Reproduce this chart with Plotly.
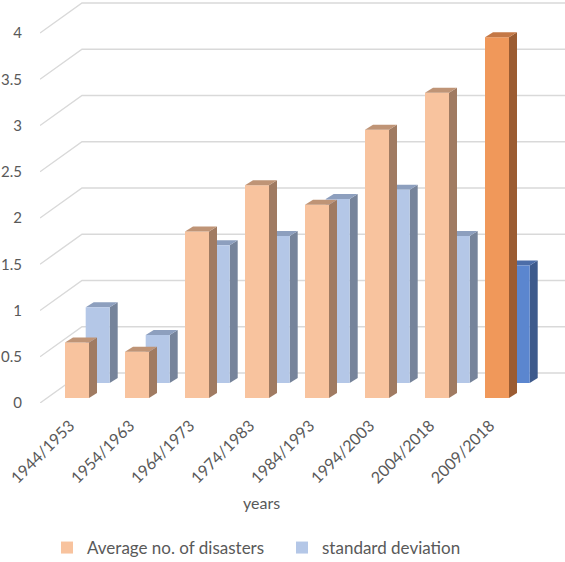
import plotly.graph_objects as go

# ---------------- data ----------------
categories = ["1944/1953", "1954/1963", "1964/1973", "1974/1983",
              "1984/1993", "1994/2003", "2004/2018", "2009/2018"]
avg_disasters = [0.6, 0.5, 1.8, 2.3, 2.09, 2.9, 3.3, 3.9]
std_deviation = [0.82, 0.52, 1.49, 1.59, 1.99, 2.09, 1.59, 1.27]
y_tick_vals = [0, 0.5, 1, 1.5, 2, 2.5, 3, 3.5, 4]
y_tick_labels = ["0", "0.5", "1", "1.5", "2", "2.5", "3", "3.5", "4"]

# ---------------- styling / pseudo-3D geometry ----------------
FONT = "Lato"
TXT = "#595959"
GRID = "#D9D9D9"

avg_front = ["#F8C39E"] * 7 + ["#F0985A"]
avg_side = ["#A07B62"] * 7 + ["#9B5C32"]
avg_top = ["#BF9476"] * 7 + ["#C47846"]
std_front = ["#B4C7E7"] * 7 + ["#5B86CF"]
std_side = ["#76849B"] * 7 + ["#3D5A8C"]
std_top = ["#8D9FBE"] * 7 + ["#4C6DA8"]

PX_X = 60.0     # px per category
PX_Y = 92.5     # px per value unit
X_LEFT = -37 / PX_X
X_RIGHT = 488 / PX_X
Y_TOP = 403 / PX_Y

HALF_W = 0.2
FACE_DX = 8 / PX_X
FACE_DY = 5 / PX_Y
AVG_BASE = 5 / PX_Y
STD_BASE = 20 / PX_Y
STD_XOFF = 20.7 / PX_X
WALL_DX = 42 / PX_X
WALL_DY = 30 / PX_Y

xs = list(range(len(categories)))
shapes = []

# back wall gridlines (slanting along the side wall, then flat across the back wall)
for v in y_tick_vals:
    shapes.append(dict(
        type="path", xref="x", yref="y", layer="below",
        path=f"M{X_LEFT},{v} L{X_LEFT + WALL_DX},{v + WALL_DY} L{X_RIGHT},{v + WALL_DY}",
        line=dict(color=GRID, width=1.4)))


def faces(vals, base, xoff, side_cols, top_cols, layer):
    out = []
    for x, v, sc, tc in zip(xs, vals, side_cols, top_cols):
        x0 = x + xoff - HALF_W
        x1 = x + xoff + HALF_W
        t = base + v
        out.append(dict(
            type="path", xref="x", yref="y", layer=layer, fillcolor=sc,
            line=dict(width=0),
            path=(f"M{x1},{base} L{x1 + FACE_DX},{base + FACE_DY} "
                  f"L{x1 + FACE_DX},{t + FACE_DY} L{x1},{t} Z")))
        out.append(dict(
            type="path", xref="x", yref="y", layer=layer, fillcolor=tc,
            line=dict(width=0),
            path=(f"M{x0},{t} L{x1},{t} L{x1 + FACE_DX},{t + FACE_DY} "
                  f"L{x0 + FACE_DX},{t + FACE_DY} Z")))
    return out


shapes += faces(std_deviation, STD_BASE, STD_XOFF, std_side, std_top, "below")
shapes += faces(avg_disasters, AVG_BASE, 0.0, avg_side, avg_top, "above")

fig = go.Figure()
# back row: standard deviation
fig.add_trace(go.Bar(
    x=[x + STD_XOFF for x in xs], y=std_deviation, base=STD_BASE, width=2 * HALF_W,
    marker=dict(color=std_front, line=dict(width=0)),
    name="standard deviation", legendrank=2, hoverinfo="y"))
# front row: average no. of disasters
fig.add_trace(go.Bar(
    x=xs, y=avg_disasters, base=AVG_BASE, width=2 * HALF_W,
    marker=dict(color=avg_front, line=dict(width=0)),
    name="Average no. of disasters", legendrank=1, hoverinfo="y"))

fig.update_layout(
    width=565, height=562,
    margin=dict(l=40, r=0, t=0, b=159, autoexpand=False),
    paper_bgcolor="white", plot_bgcolor="white",
    barmode="overlay",
    font=dict(family=FONT, size=16, color=TXT),
    showlegend=True,
    legend=dict(orientation="h", xref="container", yref="container",
                x=47 / 565, y=(562 - 548) / 562, xanchor="left", yanchor="middle",
                font=dict(family=FONT, size=17, color=TXT),
                entrywidth=190, entrywidthmode="pixels"),
    xaxis=dict(range=[X_LEFT, X_RIGHT], showgrid=False, zeroline=False, showline=False,
               automargin=False,
               tickmode="array", tickvals=[x - 0.12 for x in xs], ticktext=categories,
               tickangle=-45, ticks="outside", ticklen=6, tickcolor="rgba(0,0,0,0)",
               tickfont=dict(family=FONT, size=16, color=TXT),
               fixedrange=True),
    yaxis=dict(range=[0, Y_TOP], showgrid=False, zeroline=False, showline=False,
               automargin=False,
               tickmode="array", tickvals=y_tick_vals, ticktext=y_tick_labels,
               ticks="outside", ticklen=14, tickcolor="rgba(0,0,0,0)",
               tickfont=dict(family=FONT, size=15, color=TXT), fixedrange=True),
    shapes=shapes,
    annotations=[dict(text="years", xref="paper", yref="paper",
                      x=(261 - 40) / 525, y=(403 - 502) / 403,
                      xanchor="center", yanchor="middle", showarrow=False,
                      font=dict(family=FONT, size=16, color=TXT))],
)

fig.write_html("out.html", config={"displayModeBar": False},
               post_script="document.body.style.margin='0';document.body.style.overflow='hidden';")
